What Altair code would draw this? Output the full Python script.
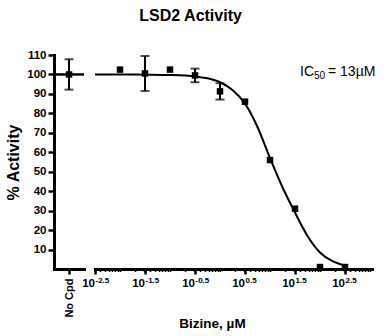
import altair as alt
import pandas as pd
import numpy as np

FONT = "Liberation Sans"

# ---- data ----
log_conc = [-2.0, -1.5, -1.0, -0.5, 0.0, 0.5, 1.0, 1.5, 2.0, 2.5]
activity = [102.5, 100.5, 102.5, 99.5, 91.3, 86.0, 56.0, 31.0, 1.0, 1.0]
sem = [0.0, 9.0, 0.0, 3.5, 4.2, 0.0, 0.0, 0.0, 0.0, 0.0]

nocpd_label = ["No Cpd"]
nocpd_activity = [100.0]
nocpd_sem = [7.8]

curve_log = [-2.5, -2.0, -1.5, -1.0, -0.5, -0.25, 0.0, 0.25, 0.5, 0.75,
             1.0, 1.25, 1.5, 1.75, 2.0, 2.25, 2.5]
curve_act = [100.0, 100.0, 99.9, 99.7, 99.0, 98.0, 96.0, 92.0, 85.0, 73.0,
             57.0, 42.0, 29.0, 17.0, 8.5, 4.0, 1.8]

tick_pos = [-2.5, -1.5, -0.5, 0.5, 1.5, 2.5]
tick_exp = ["-2.5", "-1.5", "-0.5", "0.5", "1.5", "2.5"]
y_ticks = [10, 20, 30, 40, 50, 60, 70, 80, 90, 100, 110]

x_domain = [-2.5, 3.04]
y_domain = [0, 110]

# minor ticks of the log axis (k x 10^n)
minor_ticks = [float(np.log10(k) + n) for n in range(-3, 4) for k in range(1, 10)
               if x_domain[0] <= np.log10(k) + n <= x_domain[1]]
all_ticks = sorted(set(tick_pos + minor_ticks))

H = 214
WL = 30
WR = 277

pts = pd.DataFrame({"x": log_conc, "y": activity, "sem": sem})
pts["lo"] = pts["y"] - pts["sem"]
pts["hi"] = pts["y"] + pts["sem"]
err = pts[pts["sem"] > 0]

nocpd = pd.DataFrame({"label": nocpd_label, "y": nocpd_activity, "sem": nocpd_sem})
nocpd["lo"] = nocpd["y"] - nocpd["sem"]
nocpd["hi"] = nocpd["y"] + nocpd["sem"]

curve = pd.DataFrame({"x": curve_log, "y": curve_act})
ticks = pd.DataFrame({"x": tick_pos, "base": ["10"] * len(tick_pos), "exp": tick_exp})
plateau = pd.DataFrame({"y": [curve_act[0]]})

yscale = alt.Scale(domain=y_domain, nice=False, zero=False)
xscale = alt.Scale(domain=x_domain, nice=False, zero=False)
lscale = alt.Scale(type="point", padding=0.5)

# ---- left panel: No compound ----
xl_axis = alt.Axis(title=None, labelAngle=270, labelFontSize=11, labelPadding=4,
                   tickSize=5, tickWidth=2.5)
yl_axis = alt.Axis(values=y_ticks, title="% Activity", titleFontSize=16,
                   titlePadding=5, tickSize=6, tickWidth=2.5, labelPadding=2,
                   labelFontSize=11.5, labelOverlap=False)


def XL(f):
    return alt.X(f, type="nominal", scale=lscale, axis=xl_axis)


def YL(f):
    return alt.Y(f, type="quantitative", scale=yscale, axis=yl_axis)


lbase = alt.Chart(nocpd)
left = alt.layer(
    lbase.mark_square(color="black", filled=True, opacity=1, size=42).encode(x=XL("label"), y=YL("y")),
    alt.Chart(plateau).mark_rule(color="black", strokeWidth=2.5).encode(y=YL("y")),
    lbase.mark_rule(color="black", strokeWidth=2).encode(x=XL("label"), y=YL("lo"), y2="hi:Q"),
    lbase.mark_tick(color="black", orient="horizontal", size=9, thickness=2).encode(x=XL("label"), y=YL("hi")),
    lbase.mark_tick(color="black", orient="horizontal", size=9, thickness=2).encode(x=XL("label"), y=YL("lo")),
).properties(width=WL, height=H)

# ---- right panel: concentration series ----
major_test = "abs((datum.value - floor(datum.value)) - 0.5) < 0.001"
xr_axis = alt.Axis(values=all_ticks, labels=False, title="Bizine, µM",
                   titleFontSize=13.5, titleX=117, titleY=47, titleBaseline="top",
                   titleAnchor="middle", titleAlign="center",
                   tickSize={"condition": {"test": major_test, "value": 5}, "value": 2.5},
                   tickWidth={"condition": {"test": major_test, "value": 2.5}, "value": 1.5})


def XR(f):
    return alt.X(f, type="quantitative", scale=xscale, axis=xr_axis)


def YR(f):
    return alt.Y(f, type="quantitative", scale=yscale, axis=None)


right = alt.layer(
    alt.Chart(curve).mark_line(color="black", strokeWidth=2, interpolate="monotone").encode(x=XR("x"), y=YR("y")),
    alt.Chart(err).mark_rule(color="black", strokeWidth=2).encode(x=XR("x"), y=YR("lo"), y2="hi:Q"),
    alt.Chart(err).mark_tick(color="black", orient="horizontal", size=9, thickness=2).encode(x=XR("x"), y=YR("hi")),
    alt.Chart(err).mark_tick(color="black", orient="horizontal", size=9, thickness=2).encode(x=XR("x"), y=YR("lo")),
    alt.Chart(pts).mark_square(color="black", filled=True, opacity=1, size=42).encode(x=XR("x"), y=YR("y")),
    alt.Chart(ticks).mark_text(align="right", baseline="alphabetic", fontSize=11.5,
                               fontWeight="bold", font=FONT, color="black").encode(
        x=XR("x"), y=alt.value(H + 18), text="base:N"),
    alt.Chart(ticks).mark_text(align="left", baseline="alphabetic", fontSize=8,
                               fontWeight="bold", font=FONT, color="black", dx=0.5).encode(
        x=XR("x"), y=alt.value(H + 14), text="exp:N"),
    alt.Chart(plateau).mark_text(align="left", baseline="alphabetic", fontSize=14,
                                 font=FONT, color="black", text="IC").encode(
        x=alt.value(205), y=alt.value(21)),
    alt.Chart(plateau).mark_text(align="left", baseline="alphabetic", fontSize=10,
                                 font=FONT, color="black", text="50").encode(
        x=alt.value(219), y=alt.value(24)),
    alt.Chart(plateau).mark_text(align="left", baseline="alphabetic", fontSize=14,
                                 font=FONT, color="black", text="= 13µM").encode(
        x=alt.value(233), y=alt.value(21)),
).properties(width=WR, height=H)

chart = alt.hconcat(left, right, spacing=11, bounds="flush").properties(
    title=alt.TitleParams("LSD2 Activity", fontSize=16, font=FONT, fontWeight="bold",
                          color="black", anchor="middle", offset=25),
    padding={"left": 5, "top": 8, "right": 2, "bottom": 2},
).configure_view(stroke=None).configure_axis(
    domainColor="black", domainWidth=3, tickColor="black", labelColor="black",
    titleColor="black", labelFont=FONT, titleFont=FONT, labelFontWeight="bold",
    titleFontWeight="bold", grid=False, domainCap="square"
)

chart.save("out.html", embed_options={"renderer": "svg", "actions": False})
